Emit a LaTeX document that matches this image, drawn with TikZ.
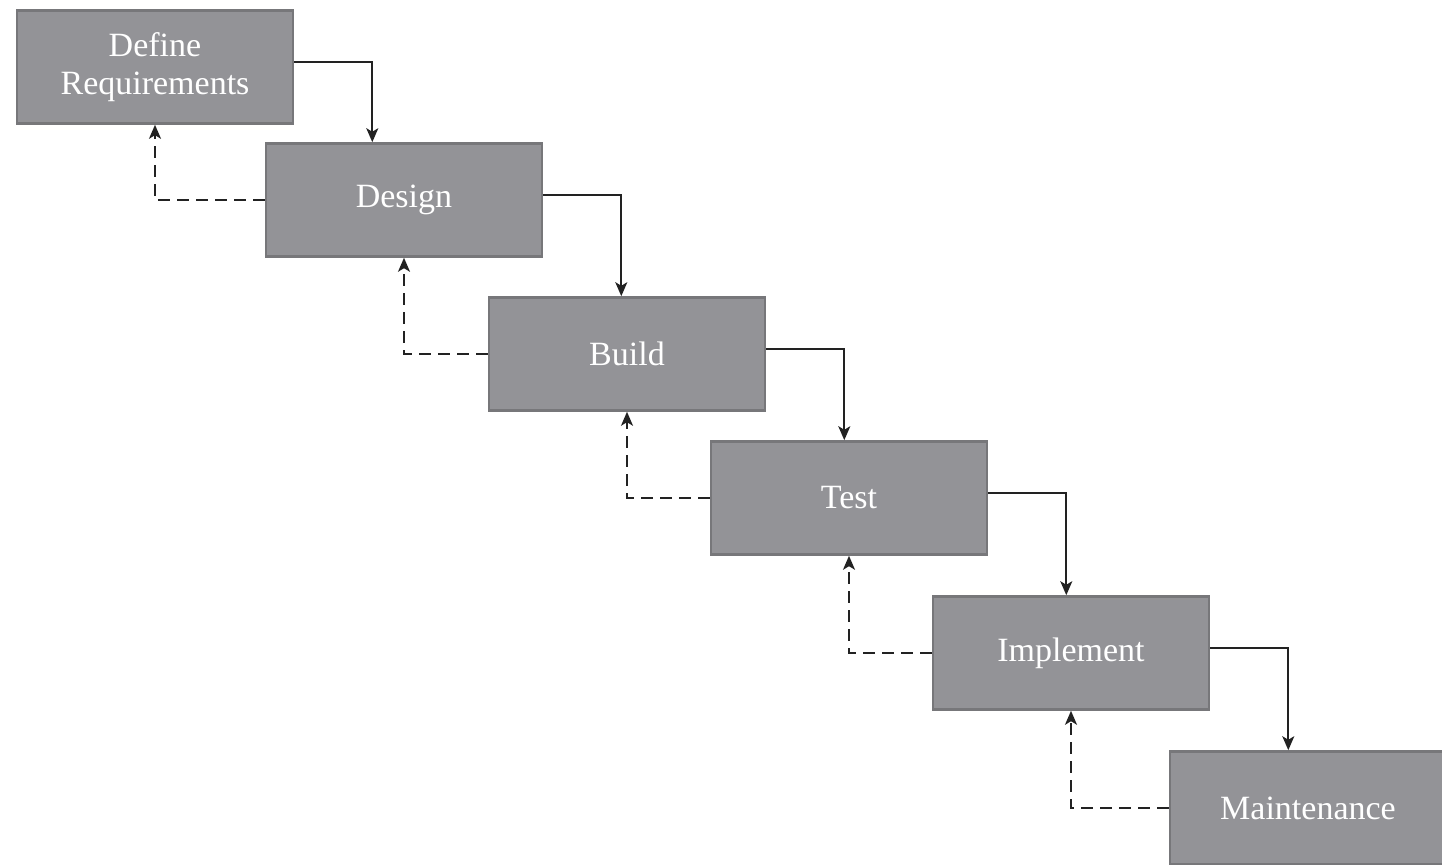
\documentclass[tikz,border=0pt]{standalone}
\usepackage{fontspec}
\setmainfont{Liberation Serif}
\usepackage{xcolor}
\usepackage{tikz}
\usetikzlibrary{arrows}
\usetikzlibrary{arrows.meta}
\usetikzlibrary{calc}
\definecolor{boxcolor}{HTML}{939397}
\definecolor{edgecolor}{HTML}{77777A}
\definecolor{arrowcolor}{HTML}{222222}

\begin{document}
\begin{tikzpicture}[x=0.5pt,y=-0.5pt,
  phase/.style={draw=edgecolor,line width=1.3pt,fill=boxcolor,text=white,
    minimum width=138pt,minimum height=56.5pt,inner sep=2pt,align=center,
    font=\fontsize{17}{19}\selectfont},
  flow/.style={arrowcolor,line width=0.9pt,-{Stealth[length=7pt,width=6pt,inset=1.8pt]}}]
\useasboundingbox (0,0) rectangle (1442,865);
%% the phases
\node[phase] (req) at (155,67)   {Define\\Requirements};
\node[phase] (des) at (404,200)  {Design};
\node[phase] (bld) at (627,354)  {Build};
\node[phase] (tst) at (849,498)  {Test};
\node[phase] (imp) at (1071,653) {Implement};
\node[phase] (mnt) at (1308,808) {Maintenance};
%% forward and back arrows
\foreach \a/\b in {req/des, des/bld, bld/tst, tst/imp, imp/mnt}{
   \draw[flow] ([yshift=2.5pt]\a.east) -- ++(39pt,0) coordinate (turn) -- (turn |- \b.north);
   \draw[flow,dash pattern=on 6pt off 3.5pt] (\b.west) -| (\a.south);
}
\end{tikzpicture}
\end{document}
